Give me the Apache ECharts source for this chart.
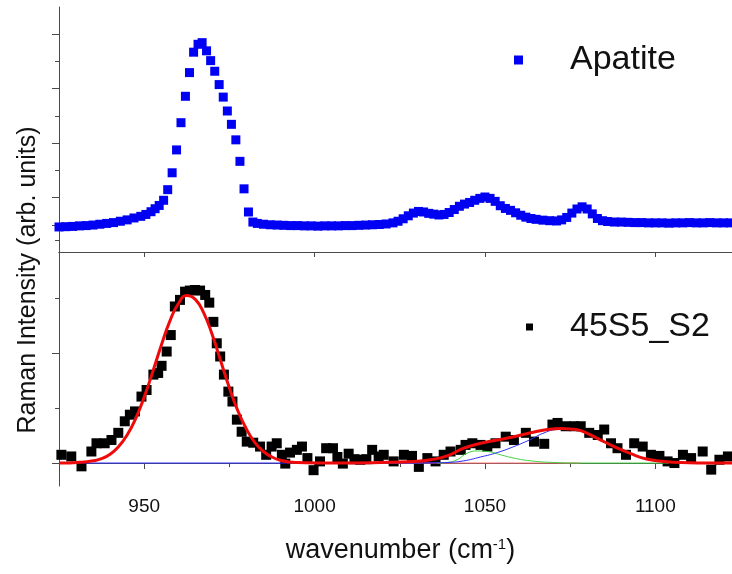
<!DOCTYPE html>
<html>
<head>
<meta charset="utf-8">
<script src="https://cdn.jsdelivr.net/npm/echarts@6/dist/echarts.min.js"></script>
<style>
  html, body { margin: 0; padding: 0; background: #fff; }
  #chart { width: 732px; height: 574px; }
</style>
</head>
<body>
<div id="chart"></div>
<script>
// Reference apatite spectrum: [wavenumber, intensity]
const apatite = [
  [925,0.92],[927,0.93],[929,0.94],[931,0.96],[933,0.97],[935,0.99],[937,1.02],[939,1.05],
  [941,1.08],[943,1.13],[945,1.18],[947,1.25],[949,1.31],[950.5,1.38],[952,1.48],[953.2,1.59],
  [954.4,1.71],[955.7,1.90],[956.9,2.29],[958.2,2.91],[959.5,3.75],[960.8,4.75],[962.1,5.72],
  [963.3,6.59],[964.5,7.34],[965.8,7.63],[967.0,7.69],[968.3,7.39],[969.5,7.03],[970.7,6.64],
  [972.0,6.15],[973.2,5.69],[974.4,5.18],[975.6,4.69],[976.9,4.12],[978.1,3.33],[979.3,2.32],
  [980.6,1.47],[981.9,1.10],[983.2,1.05],[985,1.02],[987,1.00],[989,0.99],[991,0.98],[993,0.97],
  [995,0.97],[997,0.96],[999,0.96],[1001,0.95],[1003,0.96],[1005,0.96],[1007,0.96],[1009,0.97],
  [1011,0.97],[1013,0.98],[1015,0.99],[1017,1.00],[1019,1.01],[1021,1.03],[1023,1.07],
  [1024.5,1.13],[1026,1.22],[1027.5,1.33],[1029,1.43],[1030.5,1.49],[1032,1.47],[1033.5,1.42],
  [1035,1.39],[1036.5,1.36],[1038,1.38],[1039.5,1.45],[1041,1.56],[1042.5,1.68],[1044,1.76],
  [1045.5,1.82],[1047,1.90],[1048.5,1.97],[1050,2.02],[1051.5,1.97],[1053,1.86],[1054.5,1.70],
  [1056,1.60],[1057.5,1.53],[1059,1.44],[1060.5,1.35],[1062,1.28],[1063.5,1.23],[1065,1.20],
  [1067,1.17],[1069,1.15],[1071,1.14],[1072.5,1.18],[1074,1.27],[1075.5,1.43],[1077,1.58],
  [1078.5,1.66],[1080,1.58],[1081.5,1.40],[1083,1.23],[1084.5,1.15],[1086,1.12],[1088,1.10],
  [1090,1.10],[1092,1.09],[1094,1.08],[1096,1.08],[1098,1.07],[1100,1.07],[1102,1.07],
  [1104,1.06],[1106,1.07],[1108,1.07],[1110,1.08],[1112,1.07],[1114,1.07],[1116,1.08],
  [1118,1.07],[1120,1.07],[1122,1.07]
];

// Measured 45S5_S2 spectrum (baseline subtracted)
const sample = [
  [925.7,0.15],[928.6,0.12],[931.6,-0.06],[934.5,0.21],[936.0,0.36],[938.4,0.36],[940.4,0.42],
  [942.4,0.55],[944.3,0.76],[945.8,0.88],[947.3,0.94],[949.2,1.21],[950.7,1.33],[952.7,1.61],
  [954.1,1.64],[955.1,1.77],[956.6,2.03],[957.8,2.33],[959.0,2.85],[960.5,2.97],[962.0,3.12],
  [963.4,3.14],[964.9,3.15],[966.4,3.14],[967.9,3.06],[969.1,2.92],[970.3,2.57],[971.3,2.18],
  [972.3,1.94],[973.4,1.61],[974.7,1.30],[975.9,1.12],[977.2,0.79],[978.6,0.57],[980.1,0.39],
  [982.0,0.37],[984.0,0.30],[985.8,0.15],[987.4,0.30],[988.9,0.36],[990.4,0.15],[991.4,-0.01],
  [992.8,0.19],[994.8,0.24],[996.3,0.30],[997.9,0.09],[999.7,-0.13],[1001.6,0.03],[1003.4,0.27],
  [1005.4,0.27],[1006.7,0.11],[1008.3,-0.01],[1010.0,0.17],[1011.7,0.07],[1013.4,0.06],
  [1015.2,0.07],[1016.9,0.24],[1018.8,0.12],[1020.3,0.15],[1023.2,0.03],[1026.2,0.15],
  [1028.6,0.13],[1030.6,-0.07],[1033.1,0.09],[1035.5,0.03],[1037.9,0.15],[1039.9,0.21],
  [1042.9,0.24],[1044.3,0.33],[1046.3,0.36],[1048.7,0.33],[1050.7,0.30],[1053.1,0.36],
  [1056.1,0.48],[1058.5,0.42],[1062.0,0.55],[1064.4,0.39],[1067.4,0.35],[1069.8,0.70],
  [1071.3,0.73],[1073.7,0.67],[1076.2,0.67],[1078.1,0.67],[1080.6,0.55],[1083.1,0.51],
  [1085.0,0.61],[1087.0,0.36],[1088.9,0.27],[1091.4,0.15],[1093.8,0.36],[1096.3,0.30],
  [1098.7,0.15],[1101.2,0.13],[1103.6,0.03],[1105.6,0.00],[1108.1,0.15],[1110.5,0.09],
  [1113.9,0.21],[1116.4,-0.12],[1118.8,0.06],[1121.3,0.12]
];

// Main band near 963 cm-1 (fitted component)
const bandMain = [
  [925,0],[927.5,0],[930,0.01],[932.5,0.02],[935,0.04],[937.5,0.08],[940,0.16],[942.5,0.30],
  [945,0.51],[947.5,0.81],[950,1.20],[952.5,1.66],[955,2.14],[957.5,2.58],[960,2.90],
  [962.5,3.05],[965,2.98],[967.5,2.73],[970,2.33],[972.5,1.85],[975,1.37],[977.5,0.95],
  [980,0.62],[982.5,0.37],[985,0.21],[987.5,0.11],[990,0.05],[992.5,0.02],[995,0.01],
  [1000,0],[1078,0]
];
// Weak band near 1048 cm-1
const bandLow = [
  [1036,0],[1038.9,0.01],[1041.8,0.06],[1044.8,0.18],[1047.7,0.22],[1050.7,0.21],[1054.6,0.15],
  [1058.5,0.09],[1063.4,0.04],[1070.3,0.01],[1078.1,0],[1104,0]
];
// Band near 1074 cm-1
const bandHigh = [
  [925,0],[1030,0],[1036,0.005],[1038.9,0.01],[1043.8,0.04],[1048.7,0.11],[1053.6,0.19],
  [1058.5,0.30],[1063.4,0.43],[1067,0.54],[1071,0.61],[1074,0.62],[1077,0.60],[1080,0.54],
  [1083,0.44],[1088,0.30],[1092.8,0.17],[1097.7,0.08],[1102.6,0.03],[1107.5,0.01],[1115,0],[1122.5,0]
];
// Cumulative fit
const fitTotal = [
  [925,0],[927.5,0],[930,0.01],[932.5,0.02],[935,0.04],[937.5,0.08],[940,0.16],[942.5,0.30],
  [945,0.51],[947.5,0.81],[950,1.20],[952.5,1.66],[955,2.14],[957.5,2.58],[960,2.90],
  [962.5,3.05],[965,2.98],[967.5,2.73],[970,2.33],[972.5,1.85],[975,1.37],[977.5,0.95],
  [980,0.62],[982.5,0.37],[985,0.21],[987.5,0.11],[990,0.05],[992.5,0.02],[995,0.01],
  [1005,0],[1019.3,0.01],[1029.1,0.03],[1034,0.06],[1038.9,0.13],[1043.8,0.27],
  [1048.7,0.36],[1053.6,0.42],[1058.5,0.48],[1063.4,0.55],[1068.3,0.61],[1072.2,0.63],
  [1075.2,0.62],[1078.1,0.59],[1083,0.45],[1087.9,0.30],[1092.8,0.17],[1097.7,0.07],
  [1102.6,0.03],[1107.5,0.01],[1117.3,0],[1122.5,0]
];

// Tick positions
const xTicks = [950, 1000, 1050, 1100];
const xMinorTicks = [975, 1025, 1075];
const topTicksMajor = [1, 2, 4, 6, 8];
const topTicksMinor = [0.44, 3, 5, 7];
const lowTicksMajor = [0, 2];
const lowTicksMinor = [1, 3];

const X_MIN = 925, X_MAX = 1122.5;
const FONT = '"Liberation Sans", Arial, Helvetica, sans-serif';
const AXIS = '#4a4a4a';
const TEXT = '#111';

const chart = echarts.init(document.getElementById('chart'), null, { renderer: 'canvas' });

const baseX = {
  type: 'value', min: X_MIN, max: X_MAX,
  splitLine: { show: false },
  axisLine: { show: true, lineStyle: { color: AXIS, width: 1 } },
  axisLabel: { show: false },
  axisTick: { show: false }
};
const baseY = {
  type: 'value', position: 'left',
  splitLine: { show: false },
  axisLine: { show: true, lineStyle: { color: AXIS, width: 1 } },
  axisLabel: { show: false },
  axisTick: { show: false }
};

const curve = (name, data, color, width) => ({
  name, type: 'line', xAxisIndex: 2, yAxisIndex: 2,
  data, showSymbol: false, smooth: 0.5,
  lineStyle: { color, width }
});

chart.setOption({
  animation: false,
  backgroundColor: '#fff',
  textStyle: { fontFamily: FONT },
  grid: [
    { left: 59, top: 7, width: 673, height: 245, containLabel: false, outerBoundsMode: 'none' },
    { left: 59, top: 252, width: 673, height: 234, containLabel: false, outerBoundsMode: 'none' }
  ],
  xAxis: [
    // upper panel: bottom edge with outward ticks
    Object.assign({}, baseX, {
      gridIndex: 0, position: 'bottom',
      axisTick: { show: true, inside: false, length: 5, customValues: xTicks, lineStyle: { color: AXIS } }
    }),
    // upper panel: top frame line
    Object.assign({}, baseX, { gridIndex: 0, position: 'top' }),
    // lower panel: labelled axis
    Object.assign({}, baseX, {
      gridIndex: 1, position: 'bottom',
      axisTick: { show: true, inside: false, length: 6, customValues: xTicks, lineStyle: { color: AXIS } },
      axisLabel: {
        show: true, customValues: xTicks, margin: 11, fontSize: 19, color: TEXT, fontFamily: FONT,
        formatter: v => String(v)
      },
      name: 'wavenumber (cm{sup|-1})',
      nameLocation: 'middle',
      nameGap: 51,
      nameTextStyle: {
        fontSize: 27, color: TEXT, fontFamily: FONT, padding: [0, 0, 0, 10],
        rich: { sup: { fontSize: 15, color: TEXT, fontFamily: FONT, verticalAlign: 'top', padding: [0, 0, 12, 0] } }
      }
    }),
    // lower panel: minor ticks
    Object.assign({}, baseX, {
      gridIndex: 1, position: 'bottom',
      axisLine: { show: false },
      axisTick: { show: true, inside: false, length: 4, customValues: xMinorTicks, lineStyle: { color: AXIS } }
    })
  ],
  yAxis: [
    Object.assign({}, baseY, {
      gridIndex: 0, min: 0, max: 9,
      axisTick: { show: true, inside: false, length: 7, customValues: topTicksMajor, lineStyle: { color: AXIS } }
    }),
    Object.assign({}, baseY, {
      gridIndex: 0, min: 0, max: 9, axisLine: { show: false },
      axisTick: { show: true, inside: false, length: 4, customValues: topTicksMinor, lineStyle: { color: AXIS } }
    }),
    Object.assign({}, baseY, {
      gridIndex: 1, min: -0.418, max: 3.842,
      axisTick: { show: true, inside: false, length: 7, customValues: lowTicksMajor, lineStyle: { color: AXIS } }
    }),
    Object.assign({}, baseY, {
      gridIndex: 1, min: -0.418, max: 3.842, axisLine: { show: false },
      axisTick: { show: true, inside: false, length: 4, customValues: lowTicksMinor, lineStyle: { color: AXIS } }
    })
  ],
  legend: [
    {
      data: ['Apatite'], left: 514, top: 43, padding: 0,
      icon: 'rect', itemWidth: 9, itemHeight: 9,
      itemStyle: { opacity: 1 },
      textStyle: { fontSize: 34, color: TEXT, fontFamily: FONT, padding: [0, 0, 0, 42] }
    },
    {
      data: ['45S5_S2'], left: 526, top: 310, padding: 0,
      icon: 'rect', itemWidth: 7, itemHeight: 7,
      itemStyle: { opacity: 1 },
      textStyle: { fontSize: 34, color: TEXT, fontFamily: FONT, padding: [0, 0, 0, 32] }
    }
  ],
  graphic: [
    {
      type: 'text', x: 28, y: 280, rotation: Math.PI / 2,
      style: {
        text: 'Raman Intensity (arb. units)', fontSize: 25, fontFamily: FONT, fill: TEXT,
        textAlign: 'center', textVerticalAlign: 'middle'
      }
    }
  ],
  series: [
    {
      name: 'Apatite', type: 'scatter', xAxisIndex: 0, yAxisIndex: 0,
      data: apatite, symbol: 'rect', symbolSize: 9,
      itemStyle: { color: '#0000f2', opacity: 1 }, clip: true
    },
    {
      name: '45S5_S2', type: 'scatter', xAxisIndex: 2, yAxisIndex: 2,
      data: sample, symbol: 'rect', symbolSize: 10,
      itemStyle: { color: '#000', opacity: 1 }, clip: true
    },
    curve('band 963', bandMain, '#ff6a6a', 1),
    curve('band 1048', bandLow, '#3fd23f', 1),
    curve('band 1074', bandHigh, '#2a2aff', 1),
    curve('fit', fitTotal, '#ee0a0a', 3)
  ]
});
</script>
</body>
</html>
